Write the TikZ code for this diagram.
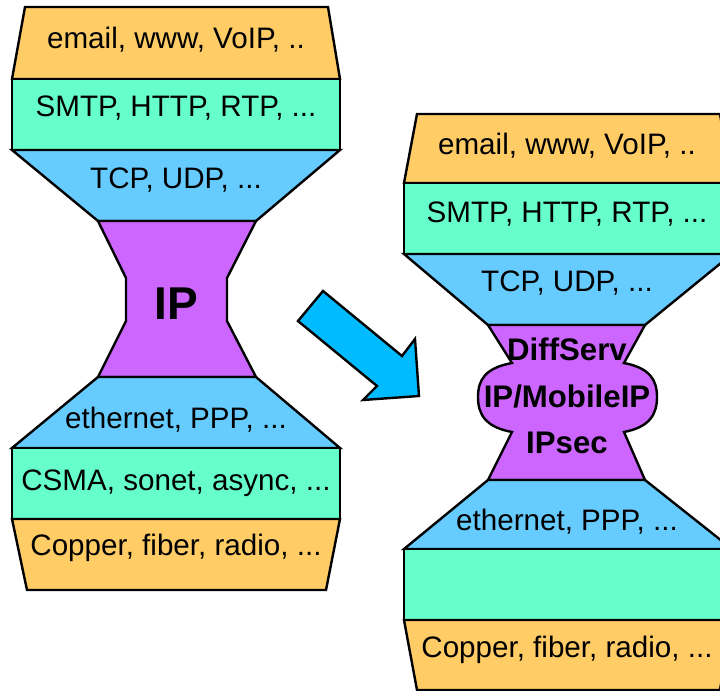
\documentclass[tikz,border=0pt]{standalone}
\usepackage{fontspec}
\setmainfont{Liberation Sans}
\definecolor{appcol}{HTML}{FFCC66}
\definecolor{protocol}{HTML}{66FFCC}
\definecolor{transport}{HTML}{66CCFF}
\definecolor{netcol}{HTML}{CC66FF}
\definecolor{arrowcol}{HTML}{00BBFF}
\tikzset{
  layer/.style={draw=black,line width=1.2pt,line join=miter},
  lbl/.style={inner sep=0pt,font=\fontsize{14.8}{17}\selectfont},
  blbl/.style={inner sep=0pt,font=\fontsize{15.6}{18}\selectfont\bfseries},
}
\begin{document}
\begin{tikzpicture}[x=0.5pt,y=-0.5pt]
  \clip (0,0) rectangle (720,691);
  \useasboundingbox (0,0) rectangle (720,691);
  % left stack
  \filldraw[layer,fill=appcol] (25,7) -- (328,7) -- (340,79) -- (12,79) -- cycle;
  \filldraw[layer,fill=protocol] (12,79) rectangle (340,150);
  \filldraw[layer,fill=transport] (12,150) -- (340,150) -- (256,221) -- (98,221) -- cycle;
  \filldraw[layer,fill=netcol] (98,221) -- (256,221) -- (227,278) -- (227,321) -- (256,377)
    -- (98,377) -- (126,321) -- (126,278) -- cycle;
  \filldraw[layer,fill=transport] (98,377) -- (256,377) -- (340,448) -- (12,448) -- cycle;
  \filldraw[layer,fill=protocol] (12,448) rectangle (340,519);
  \filldraw[layer,fill=appcol] (12,519) -- (340,519) -- (326,590) -- (27,590) -- cycle;
  \node[lbl] (lapp) at (176,40) {email, www, VoIP, ..};
  \node[lbl] (lproto) at (176,108) {SMTP, HTTP, RTP, ...};
  \node[lbl] (ltrans) at (176,180) {TCP, UDP, ...};
  \node[inner sep=0pt,font=\fontsize{23}{27}\selectfont\bfseries] (lip) at (176,304) {IP};
  \node[lbl] (llink) at (176,420) {ethernet, PPP, ...};
  \node[lbl] (lmac) at (176,483) {CSMA, sonet, async, ...};
  \node[lbl] (lphys) at (176,548) {Copper, fiber, radio, ...};
  % arrow
  \filldraw[layer,fill=arrowcol] (323,291) -- (402,356) -- (415,339) -- (419,396)
    -- (363,400) -- (377,386) -- (298,321) -- cycle;
  % right stack
  \filldraw[layer,fill=appcol] (417,114) -- (720,114) -- (732,183) -- (404,183) -- cycle;
  \filldraw[layer,fill=protocol] (404,183) rectangle (732,254);
  \filldraw[layer,fill=transport] (404,254) -- (732,254) -- (645,325) -- (488,325) -- cycle;
  \filldraw[layer,fill=netcol] (488,325) -- (645,325) -- (624,363)
    .. controls (650,368) and (657,380) .. (657,397)
    .. controls (657,414) and (650,427) .. (624,432) -- (645,480)
    -- (488,480) -- (512,432)
    .. controls (485,427) and (478,414) .. (478,397)
    .. controls (478,380) and (485,368) .. (512,363) -- cycle;
  \filldraw[layer,fill=transport] (488,480) -- (645,480) -- (732,549) -- (404,549) -- cycle;
  \filldraw[layer,fill=protocol] (404,549) rectangle (732,620);
  \filldraw[layer,fill=appcol] (404,620) -- (732,620) -- (720,690) -- (417,690) -- cycle;
  \node[lbl] (rapp) at (567,146) {email, www, VoIP, ..};
  \node[lbl] (rproto) at (567,214) {SMTP, HTTP, RTP, ...};
  \node[lbl] (rtrans) at (567,283) {TCP, UDP, ...};
  \node[blbl] (rdiff) at (567,349) {DiffServ};
  \node[blbl] (rmob) at (567,397) {IP/MobileIP};
  \node[blbl] (rsec) at (567,443) {IPsec};
  \node[lbl] (rlink) at (567,522) {ethernet, PPP, ...};
  \node[lbl] (rphys) at (567,650) {Copper, fiber, radio, ...};
\end{tikzpicture}
\end{document}
